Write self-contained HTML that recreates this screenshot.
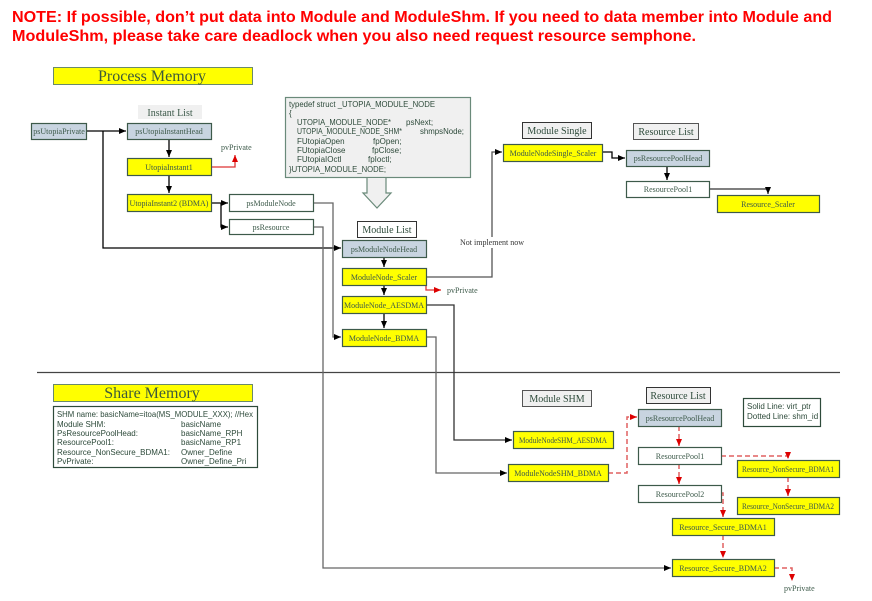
<!DOCTYPE html>
<html><head><meta charset="utf-8"><style>
html,body{margin:0;padding:0;background:#fff;}
svg{display:block;}
.s{font-family:"Liberation Serif",serif;font-size:8px;fill:#3d5a4a;}
.a{font-family:"Liberation Sans",sans-serif;font-size:8px;fill:#2d4a3a;}
</style></head><body>
<svg width="872" height="601" viewBox="0 0 872 601" xmlns="http://www.w3.org/2000/svg">
<defs>
<marker id="ab" markerWidth="8" markerHeight="8" refX="7" refY="4" orient="auto" markerUnits="userSpaceOnUse"><path d="M0,1 L7,4 L0,7 z" fill="#000"/></marker>
<marker id="ar" markerWidth="8" markerHeight="8" refX="7" refY="4" orient="auto" markerUnits="userSpaceOnUse"><path d="M0,1 L7,4 L0,7 z" fill="#d00"/></marker>
</defs>
<g font-family="Liberation Sans, sans-serif" font-weight="bold" font-size="16" fill="#f00">
<text x="12" y="22" textLength="820" lengthAdjust="spacingAndGlyphs">NOTE: If possible, don’t put data into Module and ModuleShm. If you need to data member into Module and</text>
<text x="12" y="41" textLength="684" lengthAdjust="spacingAndGlyphs">ModuleShm, please take care deadlock when you also need request resource semphone.</text>
</g>
<rect x="53.5" y="67.5" width="199" height="17" fill="#ff0" stroke="#6a8a6a"/>
<text x="152" y="81" text-anchor="middle" font-family="Liberation Serif,serif" font-size="16" fill="#3d5a3a">Process Memory</text>
<rect x="53.5" y="384.5" width="199" height="17" fill="#ff0" stroke="#6a8a6a"/>
<text x="152" y="398" text-anchor="middle" font-family="Liberation Serif,serif" font-size="16" fill="#3d5a3a">Share Memory</text>
<line x1="37" y1="372.5" x2="840" y2="372.5" stroke="#444" stroke-width="1.2"/>
<g fill="none" stroke-width="1.3">
<path d="M86,131 H126" stroke="#000" marker-end="url(#ab)"/>
<path d="M103,131 V248 H341" stroke="#000" marker-end="url(#ab)"/>
<path d="M169,139 V157" stroke="#000" marker-end="url(#ab)"/>
<path d="M169,175 V193" stroke="#000" marker-end="url(#ab)"/>
<path d="M211,203 H228" stroke="#000" marker-end="url(#ab)"/>
<path d="M221,203 V227 H228" stroke="#000" marker-end="url(#ab)"/>
<path d="M313,203 H333 V337 H341" stroke="#666" marker-end="url(#ab)"/>
<path d="M313,227 H323 V568 H671" stroke="#666" marker-end="url(#ab)"/>
<path d="M384,257 V267" stroke="#000" marker-end="url(#ab)"/>
<path d="M384,285 V295" stroke="#000" marker-end="url(#ab)"/>
<path d="M384,313 V328" stroke="#000" marker-end="url(#ab)"/>
<path d="M426,277 H492 V152 H502" stroke="#555" marker-end="url(#ab)"/>
<path d="M426,305 H454 V440 H512" stroke="#333" marker-end="url(#ab)"/>
<path d="M426,337 H436 V473 H507" stroke="#666" marker-end="url(#ab)"/>
<path d="M602,152 H612 V158 H625" stroke="#000" marker-end="url(#ab)"/>
<path d="M667,166 V180" stroke="#000" marker-end="url(#ab)"/>
<path d="M709,189 H768 V194" stroke="#333" marker-end="url(#ab)"/>
</g>
<g fill="none" stroke="#d33" stroke-width="1.3">
<path d="M211,167 H235 V155" marker-end="url(#ar)"/>
<path d="M426,285 V290 H441" marker-end="url(#ar)"/>
</g>
<g fill="none" stroke="#e06060" stroke-width="1.5" stroke-dasharray="5,3">
<path d="M608,473 H627 V417 H637" marker-end="url(#ar)"/>
<path d="M679,426 V446" marker-end="url(#ar)"/>
<path d="M721,456 H788 V459" marker-end="url(#ar)"/>
<path d="M679,464 V484" marker-end="url(#ar)"/>
<path d="M788,477 V496" marker-end="url(#ar)"/>
<path d="M721,493 H723 V517" marker-end="url(#ar)"/>
<path d="M723,535 V558" marker-end="url(#ar)"/>
<path d="M774,568 H792 V581" marker-end="url(#ar)"/>
</g>
<rect x="285.5" y="97.5" width="185" height="80" fill="#f0f0f0" stroke="#6a8a7a" stroke-width="1.2"/>
<path d="M367,178 V193 H363 L377,208 L391,193 H386 V178" fill="#f0f0f0" stroke="#6a8a7a" stroke-width="1.2"/>
<g class="a" font-size="7.5">
<text x="289" y="107" textLength="146" lengthAdjust="spacingAndGlyphs">typedef struct _UTOPIA_MODULE_NODE</text>
<text x="289" y="116">{</text>
<text x="297" y="125" textLength="94" lengthAdjust="spacingAndGlyphs">UTOPIA_MODULE_NODE*</text><text x="406" y="125">psNext;</text>
<text x="297" y="134" textLength="105" lengthAdjust="spacingAndGlyphs">UTOPIA_MODULE_NODE_SHM*</text><text x="420" y="134" textLength="44" lengthAdjust="spacingAndGlyphs">shmpsNode;</text>
<text x="297" y="144">FUtopiaOpen</text><text x="373" y="144">fpOpen;</text>
<text x="297" y="153">FUtopiaClose</text><text x="372" y="153">fpClose;</text>
<text x="297" y="162">FUtopiaIOctl</text><text x="368" y="162">fpIoctl;</text>
<text x="289" y="172" textLength="97" lengthAdjust="spacingAndGlyphs">}UTOPIA_MODULE_NODE;</text>
</g>
<rect x="138" y="105" width="64" height="14" fill="#f0f0f0"/>
<text x="170" y="116" text-anchor="middle" font-family="Liberation Serif,serif" font-size="10" fill="#3d5a4a">Instant List</text>
<g font-family="Liberation Serif,serif" font-size="10" fill="#2d4a3a" text-anchor="middle">
<rect x="357.5" y="221.5" width="59" height="16" fill="#fff" stroke="#333"/><text x="387" y="233">Module List</text>
<rect x="522.5" y="122.5" width="69" height="16" fill="#f0f0f0" stroke="#333"/><text x="557" y="134">Module Single</text>
<rect x="633.5" y="123.5" width="65" height="16" fill="#f0f0f0" stroke="#555"/><text x="666" y="135">Resource List</text>
<rect x="522.5" y="390.5" width="69" height="16" fill="#f0f0f0" stroke="#555"/><text x="557" y="402">Module SHM</text>
<rect x="646.5" y="387.5" width="64" height="16" fill="#f0f0f0" stroke="#333"/><text x="678" y="399">Resource List</text>
</g>
<g stroke="#3d5a4a" stroke-width="1.2">
<rect x="31.5" y="123.5" width="55" height="16" fill="#c8d4e0"/>
<rect x="127.5" y="123.5" width="84" height="16" fill="#c8d4e0"/>
<rect x="127.5" y="158.5" width="84" height="17" fill="#ff0"/>
<rect x="127.5" y="194.5" width="84" height="17" fill="#ff0"/>
<rect x="229.5" y="194.5" width="84" height="17" fill="#fff"/>
<rect x="229.5" y="219.5" width="84" height="15" fill="#fff"/>
<rect x="342.5" y="240.5" width="84" height="17" fill="#c8d4e0"/>
<rect x="342.5" y="268.5" width="84" height="17" fill="#ff0"/>
<rect x="342.5" y="296.5" width="84" height="17" fill="#ff0"/>
<rect x="342.5" y="329.5" width="84" height="17" fill="#ff0"/>
<rect x="503.5" y="144.5" width="99" height="17" fill="#ff0"/>
<rect x="626.5" y="150.5" width="83" height="16" fill="#c8d4e0"/>
<rect x="626.5" y="181.5" width="83" height="16" fill="#fff"/>
<rect x="717.5" y="195.5" width="102" height="17" fill="#ff0"/>
<rect x="513.5" y="431.5" width="100" height="17" fill="#ff0"/>
<rect x="508.5" y="464.5" width="100" height="17" fill="#ff0"/>
<rect x="638.5" y="409.5" width="83" height="17" fill="#c8d4e0"/>
<rect x="638.5" y="447.5" width="83" height="17" fill="#fff"/>
<rect x="638.5" y="485.5" width="83" height="17" fill="#fff"/>
<rect x="737.5" y="460.5" width="102" height="17" fill="#ff0"/>
<rect x="737.5" y="497.5" width="102" height="17" fill="#ff0"/>
<rect x="672.5" y="518.5" width="102" height="17" fill="#ff0"/>
<rect x="672.5" y="559.5" width="102" height="17" fill="#ff0"/>
<rect x="743.5" y="398.5" width="77" height="28" fill="#fff" stroke="#2d4a3a"/>
<rect x="53.5" y="406.5" width="204" height="61" fill="#fff" stroke="#2d4a3a"/>
</g>
<g class="s" text-anchor="middle">
<text x="59" y="134">psUtopiaPrivate</text>
<text x="169" y="134">psUtopiaInstantHead</text>
<text x="169" y="170">UtopiaInstant1</text>
<text x="169" y="206">UtopiaInstant2 (BDMA)</text>
<text x="271" y="206">psModuleNode</text>
<text x="271" y="230">psResource</text>
<text x="384" y="252">psModuleNodeHead</text>
<text x="384" y="280">ModuleNode_Scaler</text>
<text x="384" y="308">ModuleNode_AESDMA</text>
<text x="384" y="341">ModuleNode_BDMA</text>
<text x="553" y="156">ModuleNodeSingle_Scaler</text>
<text x="668" y="161">psResourcePoolHead</text>
<text x="668" y="192">ResourcePool1</text>
<text x="768" y="207">Resource_Scaler</text>
<text x="563" y="443" textLength="88" lengthAdjust="spacingAndGlyphs">ModuleNodeSHM_AESDMA</text>
<text x="558" y="476">ModuleNodeSHM_BDMA</text>
<text x="680" y="421">psResourcePoolHead</text>
<text x="680" y="459">ResourcePool1</text>
<text x="680" y="497">ResourcePool2</text>
<text x="788" y="472" textLength="92" lengthAdjust="spacingAndGlyphs">Resource_NonSecure_BDMA1</text>
<text x="788" y="509" textLength="92" lengthAdjust="spacingAndGlyphs">Resource_NonSecure_BDMA2</text>
<text x="723" y="530">Resource_Secure_BDMA1</text>
<text x="723" y="571">Resource_Secure_BDMA2</text>
</g>
<g class="s">
<text x="221" y="150">pvPrivate</text>
<text x="447" y="293">pvPrivate</text>
<text x="784" y="591">pvPrivate</text>
</g>
<rect x="462" y="237" width="60" height="11" fill="#fff"/>
<text x="492" y="245" text-anchor="middle" font-family="Liberation Serif,serif" font-size="8" fill="#333">Not implement now</text>
<g class="a">
<text x="747" y="409">Solid Line: virt_ptr</text>
<text x="747" y="419">Dotted Line: shm_id</text>
<text x="57" y="417" textLength="196" lengthAdjust="spacingAndGlyphs">SHM name: basicName=itoa(MS_MODULE_XXX); //Hex</text>
<text x="57" y="427">Module SHM:</text><text x="181" y="427">basicName</text>
<text x="57" y="436">PsResourcePoolHead:</text><text x="181" y="436">basicName_RPH</text>
<text x="57" y="445">ResourcePool1:</text><text x="181" y="445">basicName_RP1</text>
<text x="57" y="455">Resource_NonSecure_BDMA1:</text><text x="181" y="455">Owner_Define</text>
<text x="57" y="464">PvPrivate:</text><text x="181" y="464">Owner_Define_Pri</text>
</g>
</svg>
</body></html>
